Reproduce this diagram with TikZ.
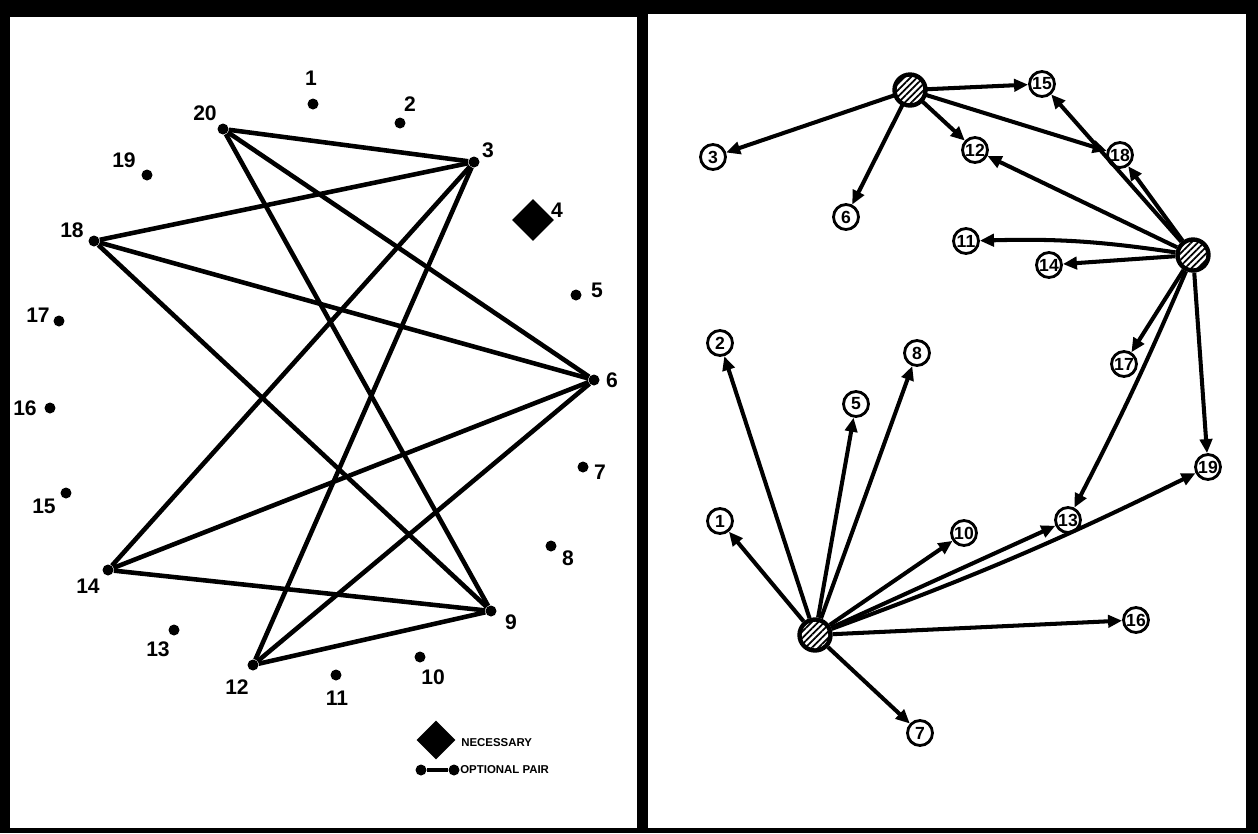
\documentclass[tikz,border=0pt]{standalone}
\usepackage{fontspec}
\setmainfont{Liberation Sans}
\usetikzlibrary{arrows.meta,patterns.meta,shapes.geometric}

\begin{document}
\begin{tikzpicture}[x=0.02cm,y=-0.02cm,
    dot/.style={circle,fill,inner sep=0pt,minimum size=0.22cm},
    num/.style={font=\bfseries\fontsize{12}{14}\selectfont,inner sep=0pt},
    pair/.style={line width=2.6pt},
    vis/.style={circle,draw,line width=1.6pt,inner sep=0pt,minimum size=0.5cm,font=\bfseries\fontsize{10}{11}\selectfont},
    hub/.style={circle,draw,line width=2.5pt,inner sep=0pt,minimum size=0.62cm,pattern={Lines[angle=45,distance=2.6pt,line width=1pt]}},
    go/.style={-{Triangle[length=8pt,width=7pt]},line width=2.3pt},
    key/.style={font=\bfseries\fontsize{6.5}{7}\selectfont,anchor=west,inner sep=0pt}]
    \useasboundingbox (0,0) rectangle (1258,833);
    % frame
    \fill (0,0) rectangle (1258,833);
    \fill [white] (10,17) rectangle (637,828);
    \fill [white] (648,14) rectangle (1246,828);
    % left panel: points
    \foreach \n/\x/\y/\lx/\ly in {1/313/104/311/78, 2/400/123/410/104, 20/223/129/205/113,
        3/474/162/488/150, 19/147/175/124/160, 18/94/241/72/230, 5/576/295/597/290,
        17/59/321/38/315, 6/594/380/612/380, 16/50/408/25/408, 7/583/467/600/472,
        15/66/493/44/506, 8/551/546/568/558, 14/108/570/88/586, 9/491/611/511/622,
        13/174/630/158/649, 12/253/665/237/687, 11/336/675/337/698, 10/420/657/433/677}
        {\node [dot] (p\n) at (\x,\y) {};
         \node [num] (t\n) at (\lx,\ly) {\n};}
    \node [diamond,fill,inner sep=0pt,minimum size=0.84cm] (p4) at (533,220) {};
    \node [num] (t4) at (557,210) {4};
    \foreach \a in {20,18,14,12}
        \foreach \b in {3,6,9}
            \draw [pair] (p\a) -- (p\b);
    % legend
    \node [diamond,fill,inner sep=0pt,minimum size=0.78cm] (keydia) at (436,740) {};
    \node [key] (keynec) at (461,743) {NECESSARY};
    \node [dot] (keya) at (421,770) {};
    \node [dot] (keyb) at (454,770) {};
    \draw [pair] (keya) -- (keyb);
    \node [key] (keyopt) at (460,770) {OPTIONAL PAIR};
    % right panel
    \node [hub] (ha) at (910,90) {};
    \node [hub] (hb) at (1193,255) {};
    \node [hub] (hc) at (815,635) {};
    \foreach \n/\x/\y in {15/1042/84, 3/713/157, 12/975/150, 18/1120/155, 6/846/217,
        11/966/241, 14/1049/265, 2/720/343, 8/917/353, 17/1124/364, 5/856/404,
        19/1208/467, 1/720/521, 10/964/533, 13/1068/520, 16/1136/620, 7/920/733}
        {\node [vis] (v\n) at (\x,\y) {\n};}
    \foreach \b in {15,3,12,18,6}
        \draw [go] (ha) -- (v\b);
    \foreach \b in {15,12,18,14,17,19}
        \draw [go] (hb) -- (v\b);
    \draw [go] (hb) to [bend right=5] (v11);
    \draw [go] (hb) to [bend left=2] (v13);
    \foreach \b in {2,1,5,8,10,13,16,7}
        \draw [go] (hc) -- (v\b);
    \draw [go] (hc) to [bend right=3] (v19);
\end{tikzpicture}
\end{document}
